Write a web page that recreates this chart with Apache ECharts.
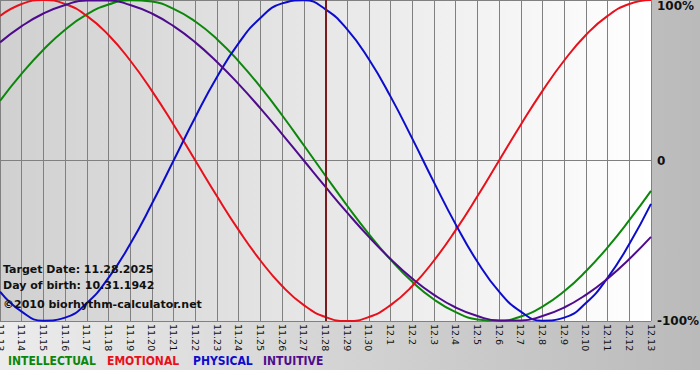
<!DOCTYPE html>
<html><head><meta charset="utf-8">
<script src="https://cdn.jsdelivr.net/npm/echarts@6/dist/echarts.min.js"></script>
<style>html,body{margin:0;padding:0;background:#fff}#c{width:700px;height:380px}</style>
</head><body><div id="c"></div>
<script>
const categories = ['11.13','11.14','11.15','11.16','11.17','11.18','11.19','11.20','11.21','11.22','11.23','11.24','11.25','11.26','11.27','11.28','11.29','11.30','12.1','12.2','12.3','12.4','12.5','12.6','12.7','12.8','12.9','12.10','12.11','12.12','12.13'];
const physical = [-81.7,-94.2,-99.8,-97.9,-88.8,-73.1,-52.0,-27.0,0,27.0,52.0,73.1,88.8,97.9,99.8,94.2,81.7,63.1,39.8,13.6,-13.6,-39.8,-63.1,-81.7,-94.2,-99.8,-97.9,-88.8,-73.1,-52.0,-27.0];
const emotional = [90.1,97.5,100,97.5,90.1,78.2,62.3,43.4,22.3,0,-22.3,-43.4,-62.3,-78.2,-90.1,-97.5,-100,-97.5,-90.1,-78.2,-62.3,-43.4,-22.3,0,22.3,43.4,62.3,78.2,90.1,97.5,100];
const intellectual = [37.2,54.1,69.0,81.5,91.0,97.2,99.9,99.0,94.5,86.6,75.6,61.8,45.8,28.2,9.5,-9.5,-28.2,-45.8,-61.8,-75.6,-86.6,-94.5,-99.0,-99.9,-97.2,-91.0,-81.5,-69.0,-54.1,-37.2,-18.9];
const intuitive = [73.6,83.7,91.6,96.9,99.7,99.7,96.9,91.6,83.7,73.6,61.4,47.6,32.5,16.5,0,-16.5,-32.5,-47.6,-61.4,-73.6,-83.7,-91.6,-96.9,-99.7,-99.7,-96.9,-91.6,-83.7,-73.6,-61.4,-47.6];
const targetDay = '11.28';
const infoLines = ['Target Date: 11.28.2025', 'Day of birth: 10.31.1942', '©2010 biorhythm-calculator.net'];
const legendNames = ['INTELLECTUAL', 'EMOTIONAL', 'PHYSICAL', 'INTUITIVE'];
const yTicks = {'100': '100%', '0': '0', '-100': '-100%'};

const colors = { INTELLECTUAL: '#0c870c', EMOTIONAL: '#e8101a', PHYSICAL: '#0c0ccc', INTUITIVE: '#4e0c8c' };
const chart = echarts.init(document.getElementById('c'), null, { renderer: 'svg' });
const lin = (a, b) => new echarts.graphic.LinearGradient(0, 0, 1, 0, [{offset: 0, color: a}, {offset: 1, color: b}]);
function line(name, data, extra) {
  return Object.assign({
    name, type: 'line', data, smooth: true, symbol: 'none',
    lineStyle: { color: colors[name], width: 2 }, itemStyle: { color: colors[name] }
  }, extra || {});
}
const legendX = [8, 107, 193, 263];
const infoY = [271, 287, 306];
chart.setOption({
  animation: false,
  backgroundColor: lin('#ececec', '#bababa'),
  grid: { left: 0, right: 49, top: 0, bottom: 59, show: true, borderWidth: 0, containLabel: false,
          outerBoundsMode: 'none',
          backgroundColor: lin('#d0d0d0', '#ffffff') },
  xAxis: {
    type: 'category', data: categories, boundaryGap: false,
    axisLine: { lineStyle: { color: '#808080', width: 1 } },
    axisTick: { show: true, length: 3, interval: 0, lineStyle: { color: '#808080' } },
    splitLine: { show: true, interval: 0, lineStyle: { color: '#808080', width: 1 } },
    axisLabel: { rotate: -90, interval: 0, margin: 3, color: '#111', fontFamily: 'DejaVu Sans', fontSize: 9.5,
                 hideOverlap: false, showMinLabel: true, showMaxLabel: true }
  },
  yAxis: {
    type: 'value', position: 'right', min: -100, max: 100, interval: 100,
    axisLine: { show: false }, axisTick: { show: false },
    splitLine: { show: true, lineStyle: { color: '#808080', width: 1 } },
    axisLabel: { margin: 6, color: '#111', fontFamily: 'DejaVu Sans', fontWeight: 'bold', fontSize: 12,
                 verticalAlignMaxLabel: 'top',
                 formatter: v => yTicks[String(v)] }
  },
  series: [
    line('INTELLECTUAL', intellectual),
    line('EMOTIONAL', emotional),
    line('PHYSICAL', physical, {
      markLine: { silent: true, symbol: 'none', label: { show: false },
        lineStyle: { color: '#7a1c1c', width: 2, type: 'solid' },
        data: [{ xAxis: targetDay }] }
    }),
    line('INTUITIVE', intuitive)
  ],
  graphic: [
    { type: 'rect', left: 0, top: 370, shape: { width: 700, height: 10 }, style: { fill: '#ffffff' }, z: 1 }
  ].concat(infoLines.map((t, i) => ({
    type: 'text', left: 3, top: infoY[i] - 7, z: 100,
    style: { text: t, fill: '#111', font: 'bold 11px "DejaVu Sans"' }
  }))).concat(legendNames.map((n, i) => ({
    type: 'text', left: legendX[i], top: 355, z: 100,
    style: { text: n, fill: colors[n], font: 'bold 12px "DejaVu Sans Condensed", "DejaVu Sans"' }
  })))
});
</script></body></html>
